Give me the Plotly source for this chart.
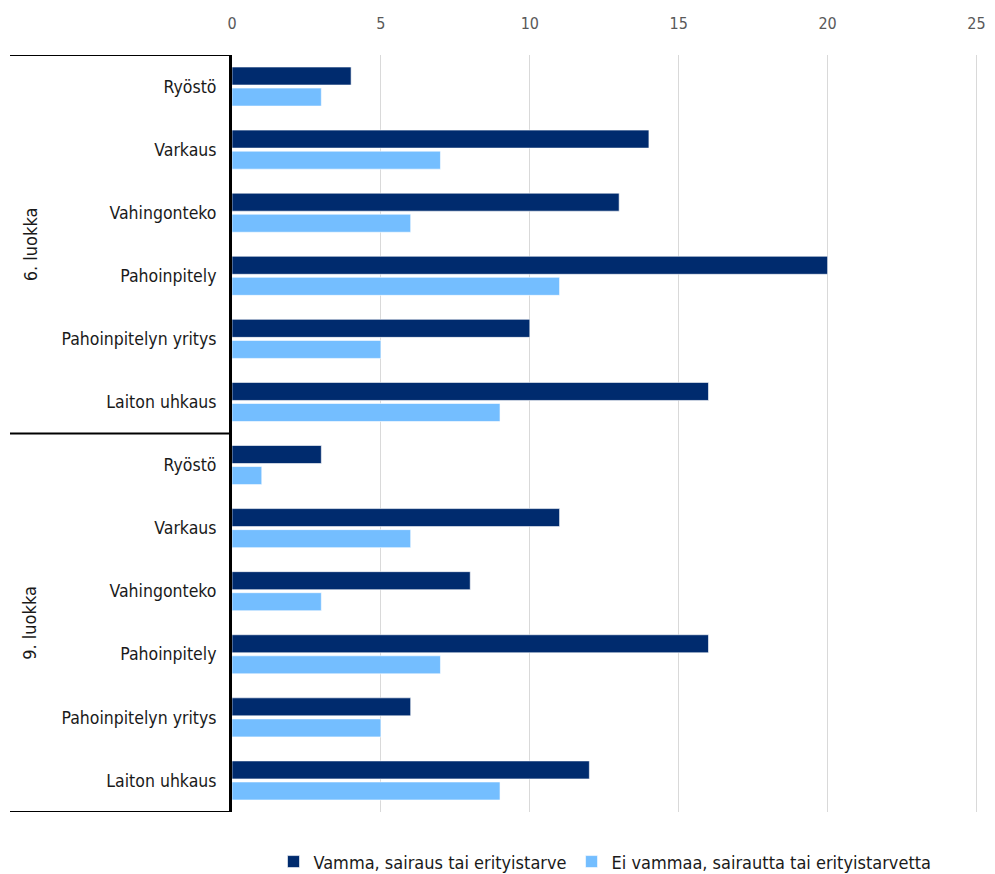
import plotly.graph_objects as go

groups = ["6. luokka", "9. luokka"]
categories = ["Ryöstö", "Varkaus", "Vahingonteko", "Pahoinpitely", "Pahoinpitelyn yritys", "Laiton uhkaus"]
series_names = ["Vamma, sairaus tai erityistarve", "Ei vammaa, sairautta tai erityistarvetta"]
vamma_6 = [4, 14, 13, 20, 10, 16]
ei_vammaa_6 = [3, 7, 6, 11, 5, 9]
vamma_9 = [3, 11, 8, 16, 6, 12]
ei_vammaa_9 = [1, 6, 3, 7, 5, 9]
x_ticks = [0, 5, 10, 15, 20, 25]

FONT = "DejaVu Sans Condensed, Liberation Sans Narrow, sans-serif"
DARK = "#002B6E"
LIGHT = "#74BEFF"

labels = categories + categories
pos = list(range(len(labels)))
vals_dark = vamma_6 + vamma_9
vals_light = ei_vammaa_6 + ei_vammaa_9

fig = go.Figure()
fig.add_trace(go.Bar(y=pos, x=vals_dark, orientation="h", name=series_names[0],
                     marker=dict(color=DARK, line=dict(color="white", width=0.6))))
fig.add_trace(go.Bar(y=pos, x=vals_light, orientation="h", name=series_names[1],
                     marker=dict(color=LIGHT, line=dict(color="white", width=0.6))))

n = len(categories)
PW = 746
# group divider lines (left of the plot)
for yv in [-0.5, n - 0.5, 2 * n - 0.5]:
    fig.add_shape(type="line", xref="paper", yref="y", x0=-222 / PW, x1=0, y0=yv, y1=yv,
                  line=dict(color="black", width=2), layer="above")
for gi, g in enumerate(groups):
    fig.add_annotation(text=g, xref="paper", yref="y", x=-202 / PW, xanchor="center",
                       y=gi * n + (n - 1) / 2, yanchor="middle",
                       showarrow=False, textangle=-90, font=dict(family=FONT, size=18, color="#1a1a1a"))

fig.update_layout(
    width=979, height=866,
    margin=dict(l=224, r=9, t=47, b=62),
    paper_bgcolor="white", plot_bgcolor="white",
    barmode="group", bargap=0.333, bargroupgap=0.143,
    font=dict(family=FONT, size=18, color="#1a1a1a"),
    showlegend=True,
    legend=dict(orientation="h", x=0.5, xanchor="center", yref="container", y=0.014, yanchor="middle",
                font=dict(family=FONT, size=18, color="#1a1a1a"), traceorder="normal",
                itemwidth=30),
    xaxis=dict(side="top", range=[0, 25.05], tickvals=x_ticks, showgrid=True, gridcolor="#d9d9d9",
               gridwidth=1, zeroline=False, showline=False, ticks="", ticklabeloverflow="allow",
               automargin=False,
               tickfont=dict(family=FONT, size=16, color="#595959"), ticklabelstandoff=22),
    yaxis=dict(tickvals=pos, ticktext=labels, range=[2 * n - 0.5, -0.5], autorange=False,
               showgrid=False, zeroline=False, showline=True, linecolor="black", linewidth=3,
               ticks="", tickfont=dict(family=FONT, size=17.5, color="#1a1a1a"), ticklabelstandoff=9),
)

fig.write_html("out.html")
